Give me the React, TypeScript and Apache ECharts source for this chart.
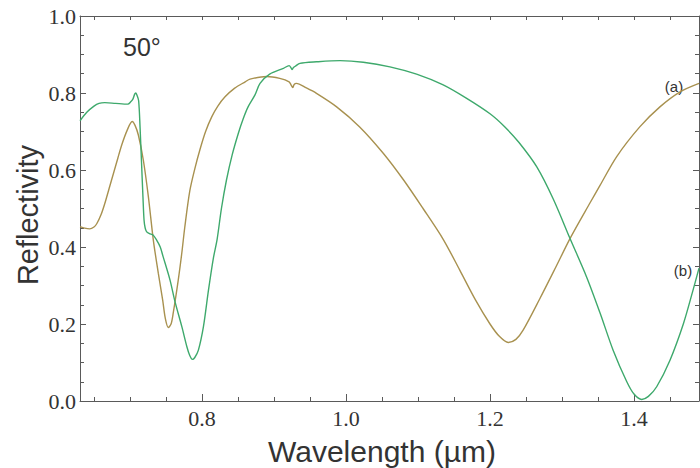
import React, { useEffect, useRef } from "react";
import * as echarts from "echarts";

const waveA = [0.6306, 0.637, 0.644, 0.65, 0.654, 0.66, 0.665, 0.671, 0.677, 0.683, 0.6885, 0.696, 0.703, 0.707, 0.7116, 0.7185, 0.7255, 0.7324, 0.7393, 0.7454, 0.749, 0.7532, 0.757, 0.76, 0.767, 0.772, 0.776, 0.783, 0.79, 0.797, 0.805, 0.8135, 0.822, 0.832, 0.845, 0.86, 0.8667, 0.8898, 0.908, 0.921, 0.924, 0.926, 0.928, 0.931, 0.945, 0.959, 0.987, 1.019, 1.052, 1.08, 1.107, 1.135, 1.158, 1.18, 1.2, 1.213, 1.2254, 1.236, 1.246, 1.269, 1.292, 1.312, 1.339, 1.3528, 1.376, 1.408, 1.436, 1.464, 1.4903];
const reflA = [0.453, 0.449, 0.447, 0.452, 0.461, 0.485, 0.513, 0.552, 0.591, 0.63, 0.665, 0.703, 0.726, 0.716, 0.691, 0.626, 0.531, 0.418, 0.332, 0.262, 0.215, 0.191, 0.2, 0.228, 0.314, 0.385, 0.45, 0.545, 0.603, 0.652, 0.7, 0.738, 0.766, 0.79, 0.812, 0.829, 0.836, 0.843, 0.838, 0.829, 0.82, 0.814, 0.822, 0.825, 0.813, 0.799, 0.764, 0.712, 0.643, 0.574, 0.5, 0.42, 0.34, 0.262, 0.2, 0.168, 0.152, 0.16, 0.184, 0.265, 0.35, 0.425, 0.515, 0.56, 0.635, 0.712, 0.764, 0.803, 0.825];

const waveB = [0.6306, 0.64, 0.65, 0.657, 0.665, 0.68, 0.697, 0.701, 0.704, 0.7065, 0.708, 0.7095, 0.712, 0.714, 0.716, 0.718, 0.7195, 0.721, 0.723, 0.727, 0.732, 0.737, 0.742, 0.746, 0.7556, 0.7625, 0.772, 0.779, 0.783, 0.7866, 0.79, 0.795, 0.802, 0.809, 0.8157, 0.821, 0.827, 0.834, 0.842, 0.8504, 0.857, 0.864, 0.8736, 0.8806, 0.894, 0.913, 0.921, 0.9235, 0.925, 0.927, 0.93, 0.936, 0.959, 0.9917, 1.024, 1.061, 1.098, 1.135, 1.1676, 1.2, 1.22, 1.24, 1.265, 1.288, 1.311, 1.334, 1.353, 1.371, 1.39, 1.4, 1.4107, 1.42, 1.4315, 1.45, 1.4685, 1.482, 1.4903];
const reflB = [0.728, 0.75, 0.766, 0.773, 0.775, 0.773, 0.771, 0.777, 0.784, 0.797, 0.8, 0.795, 0.78, 0.71, 0.62, 0.53, 0.47, 0.45, 0.44, 0.435, 0.431, 0.418, 0.4, 0.375, 0.314, 0.258, 0.193, 0.141, 0.118, 0.108, 0.113, 0.132, 0.193, 0.288, 0.37, 0.42, 0.5, 0.574, 0.64, 0.695, 0.732, 0.764, 0.795, 0.825, 0.849, 0.864, 0.871, 0.866, 0.861, 0.866, 0.87, 0.877, 0.881, 0.884, 0.88, 0.868, 0.849, 0.821, 0.786, 0.746, 0.713, 0.672, 0.608, 0.524, 0.4226, 0.323, 0.228, 0.132, 0.05, 0.018, 0.004, 0.012, 0.037, 0.106, 0.2, 0.288, 0.345];

const xMajorTicks = [0.8, 1.0, 1.2, 1.4];
const xMinorTicks = [0.65, 0.7, 0.75, 0.8, 0.85, 0.9, 0.95, 1.0, 1.05, 1.1, 1.15, 1.2, 1.25, 1.3, 1.35, 1.4, 1.45];

const X_MIN = 0.63056;
const X_MAX = 1.49028;
const AXIS_COLOR = "#5a5a5a";
const SERIF = "Liberation Serif";
const SANS = "Liberation Sans, Arial, sans-serif";

export default function App() {
  const ref = useRef<HTMLDivElement>(null);
  useEffect(() => {
    if (!ref.current) return;
    const chart = echarts.init(ref.current, null, { renderer: "svg" });
    const lineStyle = { color: AXIS_COLOR, width: 1 };
    const baseX = { type: "value", min: X_MIN, max: X_MAX, splitLine: { show: false } };
    chart.setOption({
      animation: false,
      backgroundColor: "#ffffff",
      grid: { left: 80, right: 1, top: 16, bottom: 67, containLabel: false },
      xAxis: [
        {
          ...baseX,
          position: "bottom",
          axisLine: { show: true, lineStyle },
          axisTick: { show: true, inside: true, length: 4, lineStyle, customValues: xMinorTicks },
          axisLabel: { show: false },
        },
        {
          ...baseX,
          position: "bottom",
          axisLine: { show: false },
          axisTick: { show: true, inside: true, length: 7, lineStyle, customValues: xMajorTicks },
          axisLabel: {
            show: true,
            customValues: xMajorTicks,
            formatter: (v: number) => v.toFixed(1),
            fontFamily: SERIF,
            fontSize: 22,
            color: "#333",
            margin: 6,
          },
        },
        {
          ...baseX,
          position: "top",
          axisLine: { show: true, lineStyle },
          axisTick: { show: true, inside: true, length: 4, lineStyle, customValues: xMinorTicks },
          axisLabel: { show: false },
        },
      ],
      yAxis: [
        {
          type: "value",
          min: 0,
          max: 1,
          interval: 0.2,
          position: "left",
          splitLine: { show: false },
          axisLine: { show: true, lineStyle },
          axisTick: { show: true, inside: true, length: 6, lineStyle },
          minorTick: { show: true, splitNumber: 4, length: 4, lineStyle },
          axisLabel: {
            formatter: (v: number) => v.toFixed(1),
            fontFamily: SERIF,
            fontSize: 22,
            color: "#333",
            margin: 4,
          },
        },
        {
          type: "value",
          min: 0,
          max: 1,
          interval: 0.2,
          position: "right",
          splitLine: { show: false },
          axisLine: { show: true, lineStyle },
          axisTick: { show: true, inside: true, length: 6, lineStyle },
          minorTick: { show: true, splitNumber: 4, length: 4, lineStyle },
          axisLabel: { show: false },
        },
      ],
      series: [
        {
          name: "(a)",
          type: "line",
          xAxisIndex: 0,
          yAxisIndex: 0,
          data: waveA.map((w, i) => [w, reflA[i]]),
          showSymbol: false,
          smooth: 0.3,
          lineStyle: { color: "#a8914f", width: 1.4 },
          itemStyle: { color: "#a8914f" },
        },
        {
          name: "(b)",
          type: "line",
          xAxisIndex: 0,
          yAxisIndex: 0,
          data: waveB.map((w, i) => [w, reflB[i]]),
          showSymbol: false,
          smooth: 0.3,
          lineStyle: { color: "#3ea96c", width: 1.4 },
          itemStyle: { color: "#3ea96c" },
        },
      ],
      graphic: [
        {
          type: "text",
          x: 382,
          y: 451,
          style: { text: "Wavelength (µm)", font: `30px ${SANS}`, fill: "#333", textAlign: "center", textVerticalAlign: "middle" },
        },
        {
          type: "text",
          x: 28,
          y: 215,
          rotation: Math.PI / 2,
          style: { text: "Reflectivity", font: `29px ${SANS}`, fill: "#333", textAlign: "center", textVerticalAlign: "middle" },
        },
        {
          type: "text",
          x: 123,
          y: 47,
          style: { text: "50°", font: `25px ${SANS}`, fill: "#333", textAlign: "left", textVerticalAlign: "middle" },
        },
        {
          type: "text",
          x: 674,
          y: 86,
          style: { text: "(a)", font: `15px ${SANS}`, fill: "#333", textAlign: "center", textVerticalAlign: "middle" },
        },
        {
          type: "text",
          x: 683,
          y: 270,
          style: { text: "(b)", font: `15px ${SANS}`, fill: "#333", textAlign: "center", textVerticalAlign: "middle" },
        },
      ],
    });
    return () => chart.dispose();
  }, []);
  return <div ref={ref} style={{ position: "absolute", left: 0, top: 0, width: 700, height: 468 }} />;
}
